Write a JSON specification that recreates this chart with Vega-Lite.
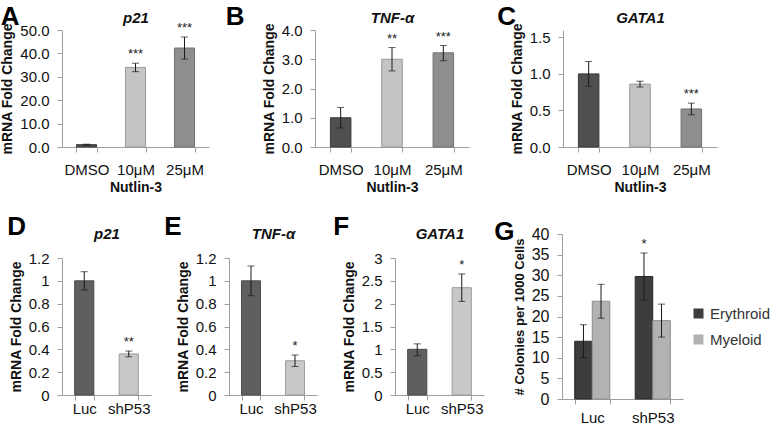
{
  "$schema": "https://vega.github.io/schema/vega-lite/v6.json",
  "background": "white",
  "padding": {"left": 0, "top": 3, "right": 0, "bottom": 0},
  "config": {
    "view": {"stroke": null},
    "font": "Liberation Sans",
    "axis": {"grid": false, "domainColor": "#9e9e9e", "tickColor": "#9e9e9e", "tickSize": 5, "labelFontSize": 15, "labelColor": "#111111", "titleFontSize": 14, "titleFontWeight": "bold", "titleColor": "#111111"},
    "axisX": {"tickBand": "extent", "labelAngle": 0},
    "axisY": {"titlePadding": 5, "labelPadding": 8, "labelOverlap": false},
    "title": {"fontSize": 26, "fontWeight": "bold", "anchor": "start", "frame": "bounds", "color": "#000000"}
  },
  "resolve": {"scale": {"color": "independent", "stroke": "independent"}},
  "vconcat": [
    {
      "spacing": 16,
      "resolve": {"scale": {"color": "independent", "stroke": "independent"}},
      "hconcat": [
        {
          "width": 147, "height": 117,
          "title": {"text": "A", "offset": -19.5, "dx": 0},
          "data": {"values": [
            {"cond": "DMSO", "value": 1.0, "lo": 0.8, "hi": 1.2, "sig": ""},
            {"cond": "10μM", "value": 34.0, "lo": 32.2, "hi": 35.8, "sig": "***"},
            {"cond": "25μM", "value": 42.3, "lo": 37.6, "hi": 47.0, "sig": "***"}
          ]},
          "encoding": {"x": {"field": "cond", "type": "nominal", "sort": null, "axis": null}},
          "layer": [
            {"mark": {"type": "bar", "strokeWidth": 1},
             "encoding": {
               "x": {"field": "cond", "type": "nominal", "sort": null, "scale": {"paddingInner": 0.59, "paddingOuter": 0.295}, "axis": {"orient": "bottom", "title": "Nutlin-3", "labelPadding": 10, "titlePadding": 3}},
               "y": {"field": "value", "type": "quantitative", "scale": {"domain": [0, 50]}, "axis": {"title": "mRNA Fold Change", "values": [0, 10, 20, 30, 40, 50], "format": ".1f"}},
               "color": {"field": "cond", "type": "nominal", "sort": null, "scale": {"domain": ["DMSO", "10μM", "25μM"], "range": ["#4f4f4f", "#c4c4c4", "#8e8e8e"]}, "legend": null},
               "stroke": {"field": "cond", "type": "nominal", "sort": null, "scale": {"domain": ["DMSO", "10μM", "25μM"], "range": ["#3a3a3a", "#9a9a9a", "#707070"]}, "legend": null}
             }},
            {"mark": {"type": "rule", "color": "#1a1a1a"}, "encoding": {"y": {"field": "lo", "type": "quantitative", "axis": {"title": "mRNA Fold Change", "values": [0, 10, 20, 30, 40, 50], "format": ".1f"}}, "y2": {"field": "hi"}}},
            {"mark": {"type": "tick", "color": "#1a1a1a", "size": 7, "thickness": 1}, "encoding": {"y": {"field": "lo", "type": "quantitative", "axis": {"title": "mRNA Fold Change", "values": [0, 10, 20, 30, 40, 50], "format": ".1f"}}}},
            {"mark": {"type": "tick", "color": "#1a1a1a", "size": 7, "thickness": 1}, "encoding": {"y": {"field": "hi", "type": "quantitative", "axis": {"title": "mRNA Fold Change", "values": [0, 10, 20, 30, 40, 50], "format": ".1f"}}}},
            {"mark": {"type": "text", "baseline": "bottom", "dy": -2, "fontSize": 13, "color": "#222222"},
             "encoding": {
               "x": {"field": "cond", "type": "nominal", "sort": null, "axis": {"orient": "top", "title": "p21", "labels": false, "ticks": false, "domain": false, "titleFontStyle": "italic", "titleFontSize": 15, "titlePadding": 5}},
               "y": {"field": "hi", "type": "quantitative", "axis": {"title": "mRNA Fold Change", "values": [0, 10, 20, 30, 40, 50], "format": ".1f"}},
               "text": {"field": "sig"}
             }}
          ],
          "resolve": {"axis": {"x": "independent"}}
        },
        {
          "spacing": 28,
          "resolve": {"scale": {"color": "independent", "stroke": "independent"}},
          "hconcat": [
            {
              "width": 154, "height": 117,
              "title": {"text": "B", "offset": -19.5, "dx": -36.5},
              "data": {"values": [
                {"cond": "DMSO", "value": 1.0, "lo": 0.65, "hi": 1.35, "sig": ""},
                {"cond": "10μM", "value": 3.0, "lo": 2.6, "hi": 3.4, "sig": "**"},
                {"cond": "25μM", "value": 3.22, "lo": 2.95, "hi": 3.47, "sig": "***"}
              ]},
              "encoding": {"x": {"field": "cond", "type": "nominal", "sort": null, "axis": null}},
              "layer": [
                {"mark": {"type": "bar", "strokeWidth": 1},
                 "encoding": {
                   "x": {"field": "cond", "type": "nominal", "sort": null, "scale": {"paddingInner": 0.6, "paddingOuter": 0.3}, "axis": {"orient": "bottom", "title": "Nutlin-3", "labelPadding": 10, "titlePadding": 3}},
                   "y": {"field": "value", "type": "quantitative", "scale": {"domain": [0, 4]}, "axis": {"title": "mRNA Fold Change", "values": [0, 1, 2, 3, 4], "format": ".1f"}},
                   "color": {"field": "cond", "type": "nominal", "sort": null, "scale": {"domain": ["DMSO", "10μM", "25μM"], "range": ["#4f4f4f", "#c4c4c4", "#8e8e8e"]}, "legend": null},
                   "stroke": {"field": "cond", "type": "nominal", "sort": null, "scale": {"domain": ["DMSO", "10μM", "25μM"], "range": ["#3a3a3a", "#9a9a9a", "#707070"]}, "legend": null}
                 }},
                {"mark": {"type": "rule", "color": "#1a1a1a"}, "encoding": {"y": {"field": "lo", "type": "quantitative", "axis": {"title": "mRNA Fold Change", "values": [0, 1, 2, 3, 4], "format": ".1f"}}, "y2": {"field": "hi"}}},
                {"mark": {"type": "tick", "color": "#1a1a1a", "size": 7, "thickness": 1}, "encoding": {"y": {"field": "lo", "type": "quantitative", "axis": {"title": "mRNA Fold Change", "values": [0, 1, 2, 3, 4], "format": ".1f"}}}},
                {"mark": {"type": "tick", "color": "#1a1a1a", "size": 7, "thickness": 1}, "encoding": {"y": {"field": "hi", "type": "quantitative", "axis": {"title": "mRNA Fold Change", "values": [0, 1, 2, 3, 4], "format": ".1f"}}}},
                {"mark": {"type": "text", "baseline": "bottom", "dy": -2, "fontSize": 13, "color": "#222222"},
                 "encoding": {
                   "x": {"field": "cond", "type": "nominal", "sort": null, "axis": {"orient": "top", "title": "TNF-α", "labels": false, "ticks": false, "domain": false, "titleFontStyle": "italic", "titleFontSize": 15, "titlePadding": 5}},
                   "y": {"field": "hi", "type": "quantitative", "axis": {"title": "mRNA Fold Change", "values": [0, 1, 2, 3, 4], "format": ".1f"}},
                   "text": {"field": "sig"}
                 }}
              ],
              "resolve": {"axis": {"x": "independent"}}
            },
            {
              "width": 154, "height": 117,
              "title": {"text": "C", "offset": -19.5, "dx": -13},
              "data": {"values": [
                {"cond": "DMSO", "value": 1.0, "lo": 0.83, "hi": 1.17, "sig": ""},
                {"cond": "10μM", "value": 0.86, "lo": 0.82, "hi": 0.9, "sig": ""},
                {"cond": "25μM", "value": 0.52, "lo": 0.44, "hi": 0.6, "sig": "***"}
              ]},
              "encoding": {"x": {"field": "cond", "type": "nominal", "sort": null, "axis": null}},
              "layer": [
                {"mark": {"type": "bar", "strokeWidth": 1},
                 "encoding": {
                   "x": {"field": "cond", "type": "nominal", "sort": null, "scale": {"paddingInner": 0.6, "paddingOuter": 0.3}, "axis": {"orient": "bottom", "title": "Nutlin-3", "labelPadding": 10, "titlePadding": 3}},
                   "y": {"field": "value", "type": "quantitative", "scale": {"domain": [0, 1.5]}, "axis": {"title": "mRNA Fold Change", "values": [0, 0.5, 1, 1.5], "format": ".1f"}},
                   "color": {"field": "cond", "type": "nominal", "sort": null, "scale": {"domain": ["DMSO", "10μM", "25μM"], "range": ["#4f4f4f", "#c4c4c4", "#8e8e8e"]}, "legend": null},
                   "stroke": {"field": "cond", "type": "nominal", "sort": null, "scale": {"domain": ["DMSO", "10μM", "25μM"], "range": ["#3a3a3a", "#9a9a9a", "#707070"]}, "legend": null}
                 }},
                {"mark": {"type": "rule", "color": "#1a1a1a"}, "encoding": {"y": {"field": "lo", "type": "quantitative", "axis": {"title": "mRNA Fold Change", "values": [0, 0.5, 1, 1.5], "format": ".1f"}}, "y2": {"field": "hi"}}},
                {"mark": {"type": "tick", "color": "#1a1a1a", "size": 7, "thickness": 1}, "encoding": {"y": {"field": "lo", "type": "quantitative", "axis": {"title": "mRNA Fold Change", "values": [0, 0.5, 1, 1.5], "format": ".1f"}}}},
                {"mark": {"type": "tick", "color": "#1a1a1a", "size": 7, "thickness": 1}, "encoding": {"y": {"field": "hi", "type": "quantitative", "axis": {"title": "mRNA Fold Change", "values": [0, 0.5, 1, 1.5], "format": ".1f"}}}},
                {"mark": {"type": "text", "baseline": "bottom", "dy": -2, "fontSize": 13, "color": "#222222"},
                 "encoding": {
                   "x": {"field": "cond", "type": "nominal", "sort": null, "axis": {"orient": "top", "title": "GATA1", "labels": false, "ticks": false, "domain": false, "titleFontStyle": "italic", "titleFontSize": 15, "titlePadding": 5}},
                   "y": {"field": "hi", "type": "quantitative", "axis": {"title": "mRNA Fold Change", "values": [0, 0.5, 1, 1.5], "format": ".1f"}},
                   "text": {"field": "sig"}
                 }}
              ],
              "resolve": {"axis": {"x": "independent"}}
            }
          ]
        }
      ]
    },
    {
      "spacing": 16,
      "resolve": {"scale": {"color": "independent", "stroke": "independent"}},
      "hconcat": [
        {
          "spacing": 13,
          "resolve": {"scale": {"color": "independent", "stroke": "independent"}},
          "hconcat": [
            {
              "width": 89, "height": 137,
              "title": {"text": "D", "offset": -14.3, "dx": -2},
              "data": {"values": [
                {"cond": "Luc", "value": 1.0, "lo": 0.92, "hi": 1.08, "sig": ""},
                {"cond": "shP53", "value": 0.36, "lo": 0.335, "hi": 0.385, "sig": "**"}
              ]},
              "encoding": {"x": {"field": "cond", "type": "nominal", "sort": null, "axis": null}},
              "layer": [
                {"mark": {"type": "bar", "strokeWidth": 1},
                 "encoding": {
                   "x": {"field": "cond", "type": "nominal", "sort": null, "scale": {"paddingInner": 0.57, "paddingOuter": 0.285}, "axis": {"orient": "bottom", "title": null, "labelPadding": 1}},
                   "y": {"field": "value", "type": "quantitative", "scale": {"domain": [0, 1.2]}, "axis": {"title": "mRNA Fold Change", "values": [0, 0.2, 0.4, 0.6, 0.8, 1, 1.2], "format": "~g"}},
                   "color": {"field": "cond", "type": "nominal", "sort": null, "scale": {"domain": ["Luc", "shP53"], "range": ["#5f5f5f", "#c8c8c8"]}, "legend": null},
                   "stroke": {"field": "cond", "type": "nominal", "sort": null, "scale": {"domain": ["Luc", "shP53"], "range": ["#4a4a4a", "#9c9c9c"]}, "legend": null}
                 }},
                {"mark": {"type": "rule", "color": "#1a1a1a"}, "encoding": {"y": {"field": "lo", "type": "quantitative", "axis": {"title": "mRNA Fold Change", "values": [0, 0.2, 0.4, 0.6, 0.8, 1, 1.2], "format": "~g"}}, "y2": {"field": "hi"}}},
                {"mark": {"type": "tick", "color": "#1a1a1a", "size": 7, "thickness": 1}, "encoding": {"y": {"field": "lo", "type": "quantitative", "axis": {"title": "mRNA Fold Change", "values": [0, 0.2, 0.4, 0.6, 0.8, 1, 1.2], "format": "~g"}}}},
                {"mark": {"type": "tick", "color": "#1a1a1a", "size": 7, "thickness": 1}, "encoding": {"y": {"field": "hi", "type": "quantitative", "axis": {"title": "mRNA Fold Change", "values": [0, 0.2, 0.4, 0.6, 0.8, 1, 1.2], "format": "~g"}}}},
                {"mark": {"type": "text", "baseline": "bottom", "dy": -2, "fontSize": 13, "color": "#222222"},
                 "encoding": {
                   "x": {"field": "cond", "type": "nominal", "sort": null, "axis": {"orient": "top", "title": "p21", "labels": false, "ticks": false, "domain": false, "titleFontStyle": "italic", "titleFontSize": 15, "titlePadding": 17}},
                   "y": {"field": "hi", "type": "quantitative", "axis": {"title": "mRNA Fold Change", "values": [0, 0.2, 0.4, 0.6, 0.8, 1, 1.2], "format": "~g"}},
                   "text": {"field": "sig"}
                 }}
              ],
              "resolve": {"axis": {"x": "independent"}}
            },
            {
              "width": 88, "height": 137,
              "title": {"text": "E", "offset": -14.3, "dx": -12},
              "data": {"values": [
                {"cond": "Luc", "value": 1.0, "lo": 0.87, "hi": 1.13, "sig": ""},
                {"cond": "shP53", "value": 0.3, "lo": 0.25, "hi": 0.35, "sig": "*"}
              ]},
              "encoding": {"x": {"field": "cond", "type": "nominal", "sort": null, "axis": null}},
              "layer": [
                {"mark": {"type": "bar", "strokeWidth": 1},
                 "encoding": {
                   "x": {"field": "cond", "type": "nominal", "sort": null, "scale": {"paddingInner": 0.57, "paddingOuter": 0.285}, "axis": {"orient": "bottom", "title": null, "labelPadding": 1}},
                   "y": {"field": "value", "type": "quantitative", "scale": {"domain": [0, 1.2]}, "axis": {"title": "mRNA Fold Change", "values": [0, 0.2, 0.4, 0.6, 0.8, 1, 1.2], "format": "~g"}},
                   "color": {"field": "cond", "type": "nominal", "sort": null, "scale": {"domain": ["Luc", "shP53"], "range": ["#5f5f5f", "#c8c8c8"]}, "legend": null},
                   "stroke": {"field": "cond", "type": "nominal", "sort": null, "scale": {"domain": ["Luc", "shP53"], "range": ["#4a4a4a", "#9c9c9c"]}, "legend": null}
                 }},
                {"mark": {"type": "rule", "color": "#1a1a1a"}, "encoding": {"y": {"field": "lo", "type": "quantitative", "axis": {"title": "mRNA Fold Change", "values": [0, 0.2, 0.4, 0.6, 0.8, 1, 1.2], "format": "~g"}}, "y2": {"field": "hi"}}},
                {"mark": {"type": "tick", "color": "#1a1a1a", "size": 7, "thickness": 1}, "encoding": {"y": {"field": "lo", "type": "quantitative", "axis": {"title": "mRNA Fold Change", "values": [0, 0.2, 0.4, 0.6, 0.8, 1, 1.2], "format": "~g"}}}},
                {"mark": {"type": "tick", "color": "#1a1a1a", "size": 7, "thickness": 1}, "encoding": {"y": {"field": "hi", "type": "quantitative", "axis": {"title": "mRNA Fold Change", "values": [0, 0.2, 0.4, 0.6, 0.8, 1, 1.2], "format": "~g"}}}},
                {"mark": {"type": "text", "baseline": "bottom", "dy": -2, "fontSize": 13, "color": "#222222"},
                 "encoding": {
                   "x": {"field": "cond", "type": "nominal", "sort": null, "axis": {"orient": "top", "title": "TNF-α", "labels": false, "ticks": false, "domain": false, "titleFontStyle": "italic", "titleFontSize": 15, "titlePadding": 17}},
                   "y": {"field": "hi", "type": "quantitative", "axis": {"title": "mRNA Fold Change", "values": [0, 0.2, 0.4, 0.6, 0.8, 1, 1.2], "format": "~g"}},
                   "text": {"field": "sig"}
                 }}
              ],
              "resolve": {"axis": {"x": "independent"}}
            }
          ]
        },
        {
          "spacing": 10,
          "resolve": {"scale": {"color": "independent", "stroke": "independent"}},
          "hconcat": [
            {
              "width": 89, "height": 137,
              "title": {"text": "F", "offset": -14.3, "dx": -9},
              "data": {"values": [
                {"cond": "Luc", "value": 1.0, "lo": 0.86, "hi": 1.12, "sig": ""},
                {"cond": "shP53", "value": 2.35, "lo": 2.05, "hi": 2.65, "sig": "*"}
              ]},
              "encoding": {"x": {"field": "cond", "type": "nominal", "sort": null, "axis": null}},
              "layer": [
                {"mark": {"type": "bar", "strokeWidth": 1},
                 "encoding": {
                   "x": {"field": "cond", "type": "nominal", "sort": null, "scale": {"paddingInner": 0.57, "paddingOuter": 0.285}, "axis": {"orient": "bottom", "title": null, "labelPadding": 1}},
                   "y": {"field": "value", "type": "quantitative", "scale": {"domain": [0, 3]}, "axis": {"title": "mRNA Fold Change", "values": [0, 0.5, 1, 1.5, 2, 2.5, 3], "format": "~g"}},
                   "color": {"field": "cond", "type": "nominal", "sort": null, "scale": {"domain": ["Luc", "shP53"], "range": ["#5f5f5f", "#c8c8c8"]}, "legend": null},
                   "stroke": {"field": "cond", "type": "nominal", "sort": null, "scale": {"domain": ["Luc", "shP53"], "range": ["#4a4a4a", "#9c9c9c"]}, "legend": null}
                 }},
                {"mark": {"type": "rule", "color": "#1a1a1a"}, "encoding": {"y": {"field": "lo", "type": "quantitative", "axis": {"title": "mRNA Fold Change", "values": [0, 0.5, 1, 1.5, 2, 2.5, 3], "format": "~g"}}, "y2": {"field": "hi"}}},
                {"mark": {"type": "tick", "color": "#1a1a1a", "size": 7, "thickness": 1}, "encoding": {"y": {"field": "lo", "type": "quantitative", "axis": {"title": "mRNA Fold Change", "values": [0, 0.5, 1, 1.5, 2, 2.5, 3], "format": "~g"}}}},
                {"mark": {"type": "tick", "color": "#1a1a1a", "size": 7, "thickness": 1}, "encoding": {"y": {"field": "hi", "type": "quantitative", "axis": {"title": "mRNA Fold Change", "values": [0, 0.5, 1, 1.5, 2, 2.5, 3], "format": "~g"}}}},
                {"mark": {"type": "text", "baseline": "bottom", "dy": -2, "fontSize": 13, "color": "#222222"},
                 "encoding": {
                   "x": {"field": "cond", "type": "nominal", "sort": null, "axis": {"orient": "top", "title": "GATA1", "labels": false, "ticks": false, "domain": false, "titleFontStyle": "italic", "titleFontSize": 15, "titlePadding": 17}},
                   "y": {"field": "hi", "type": "quantitative", "axis": {"title": "mRNA Fold Change", "values": [0, 0.5, 1, 1.5, 2, 2.5, 3], "format": "~g"}},
                   "text": {"field": "sig"}
                 }}
              ],
              "resolve": {"axis": {"x": "independent"}}
            },
            {
              "width": 121, "height": 141,
              "title": {"text": "G", "offset": -19, "dx": -19},
              "data": {"values": [
                {"grp": "Luc", "type": "Erythroid", "value": 14.0, "lo": 10.0, "hi": 18.0, "sig": ""},
                {"grp": "Luc", "type": "Myeloid", "value": 23.7, "lo": 19.6, "hi": 27.8, "sig": ""},
                {"grp": "shP53", "type": "Erythroid", "value": 29.7, "lo": 24.0, "hi": 35.4, "sig": "*"},
                {"grp": "shP53", "type": "Myeloid", "value": 19.0, "lo": 15.0, "hi": 23.0, "sig": ""}
              ]},
              "encoding": {
                "x": {"field": "grp", "type": "nominal", "sort": null, "scale": {"paddingInner": 0.42, "paddingOuter": 0.21}, "axis": {"title": null, "labelPadding": 6}},
                "xOffset": {"field": "type", "type": "nominal", "sort": null}
              },
              "layer": [
                {"mark": {"type": "bar", "strokeWidth": 1},
                 "encoding": {
                   "y": {"field": "value", "type": "quantitative", "scale": {"domain": [0, 40], "range": [141, -24]}, "axis": {"title": "# Colonies per 1000 Cells", "titleFontSize": 13, "labelFontSize": 16, "values": [0, 5, 10, 15, 20, 25, 30, 35, 40]}},
                   "color": {"field": "type", "type": "nominal", "sort": null, "scale": {"domain": ["Erythroid", "Myeloid"], "range": ["#3d3d3d", "#b2b2b2"]},
                     "legend": {"orient": "none", "legendX": 129, "legendY": 48, "title": null, "padding": 0, "symbolType": "square", "symbolSize": 100, "symbolStrokeWidth": 0, "labelFontSize": 15, "labelColor": "#333333", "labelOffset": 4, "rowPadding": 10}},
                   "stroke": {"field": "type", "type": "nominal", "sort": null, "scale": {"domain": ["Erythroid", "Myeloid"], "range": ["#2a2a2a", "#8c8c8c"]}, "legend": {"orient": "none", "legendX": 129, "legendY": 48, "title": null, "padding": 0, "symbolType": "square", "symbolSize": 100, "symbolStrokeWidth": 0, "labelFontSize": 15, "labelColor": "#333333", "labelOffset": 4, "rowPadding": 10}}
                 }},
                {"mark": {"type": "rule", "color": "#1a1a1a"}, "encoding": {"y": {"field": "lo", "type": "quantitative", "axis": {"title": "# Colonies per 1000 Cells", "titleFontSize": 13, "labelFontSize": 16, "values": [0, 5, 10, 15, 20, 25, 30, 35, 40]}}, "y2": {"field": "hi"}}},
                {"mark": {"type": "tick", "color": "#1a1a1a", "size": 7, "thickness": 1}, "encoding": {"y": {"field": "lo", "type": "quantitative", "axis": {"title": "# Colonies per 1000 Cells", "titleFontSize": 13, "labelFontSize": 16, "values": [0, 5, 10, 15, 20, 25, 30, 35, 40]}}}},
                {"mark": {"type": "tick", "color": "#1a1a1a", "size": 7, "thickness": 1}, "encoding": {"y": {"field": "hi", "type": "quantitative", "axis": {"title": "# Colonies per 1000 Cells", "titleFontSize": 13, "labelFontSize": 16, "values": [0, 5, 10, 15, 20, 25, 30, 35, 40]}}}},
                {"mark": {"type": "text", "baseline": "bottom", "dy": -2, "fontSize": 13, "color": "#222222"},
                 "encoding": {"y": {"field": "hi", "type": "quantitative", "axis": {"title": "# Colonies per 1000 Cells", "titleFontSize": 13, "labelFontSize": 16, "values": [0, 5, 10, 15, 20, 25, 30, 35, 40]}}, "text": {"field": "sig"}}}
              ]
            }
          ]
        }
      ]
    }
  ],
  "spacing": 20
}
